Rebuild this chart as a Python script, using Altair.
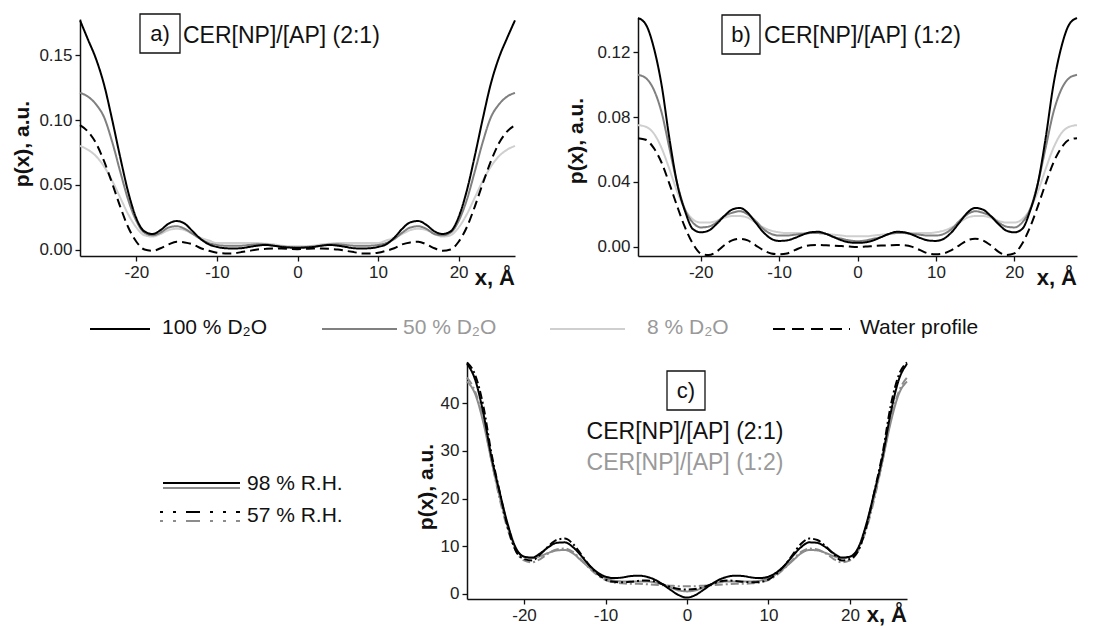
import altair as alt
import pandas as pd

# x grid (Å)
X = list(range(-28, 29))

# ---- panel a) CER[NP]/[AP] (2:1) ----
A_100 = [0.178, 0.177, 0.162, 0.147, 0.127, 0.100, 0.071, 0.044, 0.024, 0.014, 0.012, 0.015, 0.020, 0.022, 0.020,
         0.014, 0.008, 0.004, 0.002, 0.001, 0.0008, 0.001, 0.002, 0.003, 0.0035, 0.003, 0.002, 0.0015, 0.0012,
         0.0015, 0.002, 0.003, 0.0035, 0.003, 0.002, 0.001, 0.0008, 0.001, 0.002, 0.004, 0.009, 0.016, 0.021,
         0.022, 0.019, 0.014, 0.012, 0.014, 0.025, 0.045, 0.072, 0.101, 0.128, 0.148, 0.163, 0.177, 0.178]
A_50 = [0.122, 0.121, 0.118, 0.112, 0.102, 0.083, 0.060, 0.038, 0.022, 0.013, 0.011, 0.013, 0.017, 0.018, 0.016,
        0.012, 0.008, 0.005, 0.0035, 0.003, 0.003, 0.003, 0.0035, 0.004, 0.004, 0.003, 0.0025, 0.002, 0.002,
        0.002, 0.0025, 0.003, 0.004, 0.004, 0.0035, 0.003, 0.003, 0.003, 0.0035, 0.005, 0.008, 0.013, 0.017,
        0.018, 0.016, 0.012, 0.011, 0.013, 0.022, 0.038, 0.060, 0.083, 0.102, 0.112, 0.118, 0.121, 0.122]
A_8 = [0.081, 0.080, 0.077, 0.072, 0.064, 0.053, 0.040, 0.027, 0.017, 0.011, 0.010, 0.012, 0.015, 0.016, 0.015,
       0.012, 0.009, 0.007, 0.005, 0.005, 0.005, 0.005, 0.005, 0.005, 0.0045, 0.004, 0.003, 0.0025, 0.0025,
       0.0025, 0.003, 0.004, 0.0045, 0.005, 0.005, 0.005, 0.005, 0.005, 0.005, 0.007, 0.009, 0.012, 0.015,
       0.016, 0.015, 0.012, 0.010, 0.011, 0.017, 0.027, 0.040, 0.053, 0.064, 0.072, 0.077, 0.080, 0.081]
A_W = [0.097, 0.096, 0.091, 0.082, 0.068, 0.051, 0.033, 0.017, 0.006, 0.000, -0.001, 0.001, 0.004, 0.006, 0.0055,
       0.004, 0.001, -0.001, -0.0025, -0.003, -0.003, -0.002, -0.001, 0.000, 0.0005, 0.0008, 0.0008, 0.0005, 0.0003,
       0.0005, 0.0008, 0.0008, 0.0005, 0.000, -0.001, -0.002, -0.003, -0.003, -0.0025, -0.001, 0.001, 0.004, 0.0055,
       0.006, 0.004, 0.001, -0.001, 0.000, 0.006, 0.017, 0.033, 0.051, 0.068, 0.082, 0.091, 0.096, 0.097]

# ---- panel b) CER[NP]/[AP] (1:2) ----
B_100 = [0.141, 0.137, 0.123, 0.100, 0.067, 0.039, 0.022, 0.011, 0.009, 0.010, 0.014, 0.019, 0.023, 0.024, 0.021,
         0.015, 0.009, 0.005, 0.0037, 0.004, 0.0055, 0.0075, 0.009, 0.0093, 0.008, 0.006, 0.004, 0.0028, 0.0025,
         0.0028, 0.004, 0.006, 0.008, 0.0093, 0.009, 0.0075, 0.0055, 0.004, 0.0037, 0.005, 0.009, 0.015, 0.021,
         0.024, 0.023, 0.019, 0.014, 0.010, 0.009, 0.011, 0.022, 0.039, 0.067, 0.100, 0.123, 0.137, 0.141]
B_50 = [0.106, 0.104, 0.097, 0.083, 0.061, 0.039, 0.023, 0.015, 0.012, 0.0125, 0.015, 0.019, 0.021, 0.022, 0.020,
        0.016, 0.011, 0.008, 0.007, 0.007, 0.0075, 0.008, 0.0085, 0.0085, 0.008, 0.006, 0.005, 0.004, 0.0035,
        0.004, 0.005, 0.006, 0.008, 0.0085, 0.0085, 0.008, 0.0075, 0.007, 0.007, 0.008, 0.011, 0.016, 0.020,
        0.022, 0.021, 0.019, 0.015, 0.0125, 0.012, 0.015, 0.023, 0.039, 0.061, 0.083, 0.097, 0.104, 0.106]
B_8 = [0.075, 0.074, 0.070, 0.061, 0.048, 0.034, 0.023, 0.017, 0.015, 0.015, 0.016, 0.018, 0.019, 0.019, 0.018,
       0.015, 0.012, 0.010, 0.009, 0.0085, 0.0085, 0.0085, 0.0085, 0.0085, 0.008, 0.0075, 0.007, 0.0065, 0.0065,
       0.0065, 0.007, 0.0075, 0.008, 0.0085, 0.0085, 0.0085, 0.0085, 0.0085, 0.009, 0.010, 0.012, 0.015, 0.018,
       0.019, 0.019, 0.018, 0.016, 0.015, 0.015, 0.017, 0.023, 0.034, 0.048, 0.061, 0.070, 0.074, 0.075]
B_W = [0.067, 0.066, 0.061, 0.052, 0.039, 0.025, 0.012, 0.002, -0.004, -0.005, -0.003, 0.001, 0.004, 0.005, 0.004,
       0.001, -0.002, -0.004, -0.0045, -0.004, -0.002, 0.000, 0.001, 0.0012, 0.001, 0.0008, 0.0005, 0.0002, 0.0,
       0.0002, 0.0005, 0.0008, 0.001, 0.0012, 0.001, 0.000, -0.002, -0.004, -0.0045, -0.004, -0.002, 0.001, 0.004,
       0.005, 0.004, 0.001, -0.003, -0.005, -0.004, 0.002, 0.012, 0.025, 0.039, 0.052, 0.061, 0.066, 0.067]

# ---- panel c) R.H. comparison ----
C_21_98 = [48.6, 48.3, 45.0, 38.0, 28.8, 21.4, 14.6, 9.6, 7.8, 7.6, 8.5, 9.8, 10.7, 10.8, 9.8,
           8.0, 6.0, 4.5, 3.6, 3.3, 3.4, 3.7, 3.8, 3.6, 3.0, 2.0, 0.8, -0.3, -0.8,
           -0.3, 0.8, 2.0, 3.0, 3.6, 3.8, 3.7, 3.4, 3.3, 3.6, 4.5, 6.0, 8.0, 9.8,
           10.8, 10.7, 9.8, 8.5, 7.6, 7.8, 9.6, 14.6, 21.4, 28.8, 38.0, 45.0, 48.3, 48.6]
C_12_98 = [44.8, 44.6, 42.0, 36.0, 28.0, 20.5, 14.0, 9.5, 7.8, 7.5, 7.9, 8.6, 9.1, 9.2, 8.5,
           7.0, 5.5, 4.2, 3.3, 2.8, 2.6, 2.6, 2.6, 2.6, 2.4, 2.0, 1.3, 0.7, 0.5,
           0.7, 1.3, 2.0, 2.4, 2.6, 2.6, 2.6, 2.6, 2.8, 3.3, 4.2, 5.5, 7.0, 8.5,
           9.2, 9.1, 8.6, 7.9, 7.5, 7.8, 9.5, 14.0, 20.5, 28.0, 36.0, 42.0, 44.6, 44.8]
C_21_57 = [48.9, 48.6, 46.0, 39.5, 29.5, 21.5, 14.0, 9.0, 7.3, 7.0, 8.3, 10.0, 11.3, 11.6, 10.5,
           8.3, 6.0, 4.2, 3.0, 2.5, 2.4, 2.5, 2.7, 2.8, 2.6, 2.0, 1.4, 1.0, 0.9,
           1.0, 1.4, 2.0, 2.6, 2.8, 2.7, 2.5, 2.4, 2.5, 3.0, 4.2, 6.0, 8.3, 10.5,
           11.6, 11.3, 10.0, 8.3, 7.0, 7.3, 9.0, 14.0, 21.5, 29.5, 39.5, 46.0, 48.6, 48.9]
C_12_57 = [45.7, 45.4, 42.5, 36.5, 28.0, 20.0, 13.5, 9.0, 7.0, 6.6, 7.3, 8.5, 9.3, 9.5, 8.8,
           7.2, 5.4, 3.9, 2.9, 2.4, 2.2, 2.1, 2.1, 2.0, 1.9, 1.8, 1.7, 1.6, 1.6,
           1.6, 1.7, 1.8, 1.9, 2.0, 2.1, 2.1, 2.2, 2.4, 2.9, 3.9, 5.4, 7.2, 8.8,
           9.5, 9.3, 8.5, 7.3, 6.6, 7.0, 9.0, 13.5, 20.0, 28.0, 36.5, 42.5, 45.4, 45.7]

X_TICKS = [-20, -10, 0, 10, 20]
A_TICKS = [0.0, 0.05, 0.10, 0.15]
B_TICKS = [0.0, 0.04, 0.08, 0.12]
C_TICKS = [0, 10, 20, 30, 40]

TITLE_A = "CER[NP]/[AP] (2:1)"
TITLE_B = "CER[NP]/[AP] (1:2)"
LEG_TOP = ["100 % D₂O", "50 % D₂O", "8 % D₂O", "Water profile"]
LEG_RH = ["98 % R.H.", "57 % R.H."]
Y_TITLE = "p(x), a.u."
X_TITLE = "x, Å"

S_DOMAIN = ["p8", "p50", "pw", "p100", "c12_98", "c12_57", "c21_98", "c21_57"]
S_COLORS = ["#cfcfcf", "#808080", "#000000", "#000000", "#8c8c8c", "#8c8c8c", "#000000", "#000000"]
S_DASH = [[1, 0], [1, 0], [9, 5], [1, 0], [1, 0], [8, 3, 2, 3], [1, 0], [8, 3, 2, 3]]

FONT = "Liberation Sans"
W, H = 1104, 621


def frame(series):
    rows = []
    for name, vals in series:
        for xv, yv in zip(X, vals):
            rows.append({"x": xv, "y": yv, "s": name})
    return pd.DataFrame(rows)


def panel(df, xdom, xrange, ydom, yrange, yticks, yfmt, xaxis_y, yaxis_x):
    return alt.Chart(df).transform_filter(
        alt.FieldRangePredicate(field="x", range=xdom)
    ).mark_line(strokeWidth=2, interpolate="monotone").encode(
        x=alt.X("x:Q",
                scale=alt.Scale(domain=xdom, range=xrange, nice=False, zero=False),
                axis=alt.Axis(orient="bottom", offset=xaxis_y - H, values=X_TICKS, title="",
                              labelExpr="(datum.value < 0 ? '-' : '') + abs(datum.value)")),
        y=alt.Y("y:Q",
                scale=alt.Scale(domain=ydom, range=yrange, nice=False, zero=False),
                axis=alt.Axis(orient="left", offset=-yaxis_x, values=yticks, title="", format=yfmt)),
        color=alt.Color("s:N", scale=alt.Scale(domain=S_DOMAIN, range=S_COLORS), legend=None),
        strokeDash=alt.StrokeDash("s:N", scale=alt.Scale(domain=S_DOMAIN, range=S_DASH), legend=None),
    )


one = pd.DataFrame({"k": [0]})


def txt(x, y, s, size=20, color="#111111", align="left", weight="normal", angle=0, baseline="middle"):
    return alt.Chart(one).mark_text(text=s, fontSize=size, color=color, align=align, baseline=baseline,
                                    fontWeight=weight, angle=angle, font=FONT).encode(
        x=alt.value(x), y=alt.value(y))


def rule(x1, x2, y, color, dash=None, width=2):
    kw = dict(color=color, strokeWidth=width)
    if dash:
        kw["strokeDash"] = dash
    return alt.Chart(one).mark_rule(**kw).encode(x=alt.value(x1), x2=alt.value(x2), y=alt.value(y))


def box(x1, x2, y1, y2):
    return alt.Chart(one).mark_rect(fill="white", fillOpacity=0, stroke="#111111", strokeWidth=1.3).encode(
        x=alt.value(x1), x2=alt.value(x2), y=alt.value(y1), y2=alt.value(y2))


df_a = frame([("p8", A_8), ("p50", A_50), ("pw", A_W), ("p100", A_100)])
df_b = frame([("p8", B_8), ("p50", B_50), ("pw", B_W), ("p100", B_100)])
df_c = frame([("c12_98", C_12_98), ("c12_57", C_12_57), ("c21_98", C_21_98), ("c21_57", C_21_57)])

pa = panel(df_a, [-27, 27], [72, 507], [-0.005, 0.178], [248, 11], A_TICKS, ".2f", 248, 72)
pb = panel(df_b, [-28, 28], [630, 1069], [-0.0056, 0.141], [248, 10], B_TICKS, ".2f", 248, 630)
pc = panel(df_c, [-27, 27], [459, 899], [-1.1, 48.7], [591, 354], C_TICKS, "d", 591, 459)

layers = [pa, pb, pc]

# panel labels & titles
layers += [box(132, 172, 6, 45), txt(152, 26, "a)", size=22, align="center"),
           txt(175, 28, TITLE_A, size=23)]
layers += [box(714, 752, 7, 46), txt(733, 27, "b)", size=22, align="center"),
           txt(756, 28, TITLE_B, size=23)]
layers += [box(659, 697, 363, 402), txt(678, 383, "c)", size=22, align="center"),
           txt(677, 424, TITLE_A, size=23, align="center"),
           txt(677, 455, TITLE_B, size=23, align="center", color="#999999")]

# axis titles
for (tx, ty) in [(15, 136), (569, 133), (419, 479)]:
    layers.append(txt(tx, ty, Y_TITLE, size=21, weight="bold", angle=270, align="center"))
for (tx, ty) in [(507, 277), (1069, 277), (899, 614)]:
    layers.append(txt(tx, ty, X_TITLE, size=22, weight="bold", align="right", baseline="alphabetic"))

# top legend
layers += [rule(82, 142, 321, "#000000"), txt(154, 320, LEG_TOP[0], size=21, color="#111111"),
           rule(314, 389, 321, "#808080"), txt(395, 320, LEG_TOP[1], size=21, color="#999999"),
           rule(542, 617, 321, "#cfcfcf"), txt(639, 320, LEG_TOP[2], size=21, color="#999999"),
           rule(765, 842, 321, "#000000", dash=[12, 7]), txt(852, 320, LEG_TOP[3], size=21, color="#111111")]

# R.H. legend
layers += [rule(155, 232, 475, "#000000"), rule(155, 232, 480, "#8c8c8c"),
           txt(239, 476, LEG_RH[0], size=21),
           rule(152, 232, 504, "#000000", dash=[3, 10, 3, 10, 14, 10]),
           rule(152, 232, 513, "#8c8c8c", dash=[3, 10, 3, 10, 14, 10]),
           txt(239, 508, LEG_RH[1], size=21)]

chart = alt.layer(*layers).resolve_scale(x="independent", y="independent").properties(
    width=W, height=H, autosize=alt.AutoSizeParams(type="none"), padding=0
).configure_view(strokeWidth=0).configure_axis(
    grid=False, domainColor="#111111", domainWidth=1.5, tickColor="#111111", tickWidth=1.3, tickSize=5,
    labelFont=FONT, labelFontSize=17, labelColor="#222222", labelPadding=3
)

chart.save("out.html", embed_options={"renderer": "svg", "actions": False})
